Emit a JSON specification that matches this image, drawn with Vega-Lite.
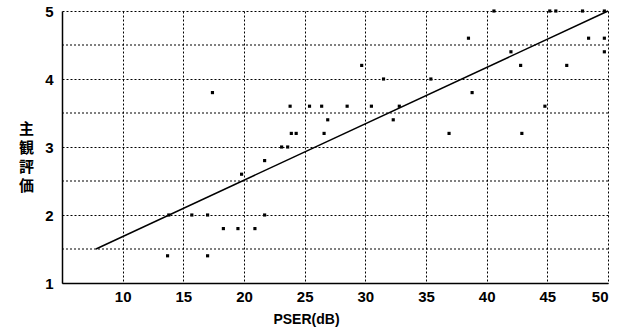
{
  "$schema": "https://vega.github.io/schema/vega-lite/v6.json",
  "width": 546,
  "height": 272,
  "autosize": {"type": "none"},
  "padding": {"left": 62, "top": 11, "right": 18, "bottom": 46},
  "background": "white",
  "config": {
    "view": {"stroke": null},
    "font": "Liberation Sans"
  },
  "datasets": {
    "pts": [
      {"pser": 17.4, "score": 3.8},
      {"pser": 23.8, "score": 3.6},
      {"pser": 25.4, "score": 3.6},
      {"pser": 26.4, "score": 3.6},
      {"pser": 28.5, "score": 3.6},
      {"pser": 30.5, "score": 3.6},
      {"pser": 32.8, "score": 3.6},
      {"pser": 44.8, "score": 3.6},
      {"pser": 23.9, "score": 3.2},
      {"pser": 24.3, "score": 3.2},
      {"pser": 26.6, "score": 3.2},
      {"pser": 36.9, "score": 3.2},
      {"pser": 42.9, "score": 3.2},
      {"pser": 26.9, "score": 3.4},
      {"pser": 32.3, "score": 3.4},
      {"pser": 23.1, "score": 3.0},
      {"pser": 23.6, "score": 3.0},
      {"pser": 21.7, "score": 2.8},
      {"pser": 19.8, "score": 2.6},
      {"pser": 13.8, "score": 2.0},
      {"pser": 15.7, "score": 2.0},
      {"pser": 17.0, "score": 2.0},
      {"pser": 21.7, "score": 2.0},
      {"pser": 18.3, "score": 1.8},
      {"pser": 19.5, "score": 1.8},
      {"pser": 20.9, "score": 1.8},
      {"pser": 13.7, "score": 1.4},
      {"pser": 17.0, "score": 1.4},
      {"pser": 40.6, "score": 5.0},
      {"pser": 45.2, "score": 5.0},
      {"pser": 45.7, "score": 5.0},
      {"pser": 47.9, "score": 5.0},
      {"pser": 49.7, "score": 5.0},
      {"pser": 38.5, "score": 4.6},
      {"pser": 48.4, "score": 4.6},
      {"pser": 49.7, "score": 4.6},
      {"pser": 42.0, "score": 4.4},
      {"pser": 49.7, "score": 4.4},
      {"pser": 29.7, "score": 4.2},
      {"pser": 42.8, "score": 4.2},
      {"pser": 46.6, "score": 4.2},
      {"pser": 31.5, "score": 4.0},
      {"pser": 35.4, "score": 4.0},
      {"pser": 38.8, "score": 3.8}
    ],
    "fit": [
      {"pser": 7.8, "score": 1.5},
      {"pser": 50, "score": 5.0}
    ],
    "halfgrid": [
      {"score": 1.5},
      {"score": 2.5},
      {"score": 3.5},
      {"score": 4.5}
    ]
  },
  "layer": [
    {
      "data": {"name": "halfgrid"},
      "mark": {"type": "rule", "color": "black", "strokeWidth": 1, "strokeDash": [2, 2]},
      "encoding": {
        "y": {"field": "score", "type": "quantitative"}
      }
    },
    {
      "data": {"name": "pts"},
      "mark": {"type": "point", "shape": "square", "filled": true, "size": 10, "color": "black", "opacity": 1},
      "encoding": {
        "x": {
          "field": "pser", "type": "quantitative",
          "scale": {"domain": [5, 50], "nice": false, "zero": false},
          "axis": {
            "values": [10, 15, 20, 25, 30, 35, 40, 45, 50],
            "title": "PSER(dB)",
            "titleFont": "Liberation Sans",
            "titleFontSize": 14,
            "titleFontWeight": "bold",
            "titleColor": "black",
            "titleX": 244,
            "titleY": 29,
            "titleBaseline": "top",
            "titleAnchor": "middle",
            "titleAlign": "center",
            "labelFontSize": 15,
            "labelFontWeight": "bold",
            "labelColor": "black",
            "labelPadding": 6,
            "ticks": false,
            "domain": true,
            "domainColor": "black",
            "domainWidth": 1.5,
            "grid": true,
            "gridColor": "black",
            "gridOpacity": 1,
            "gridDash": [2, 2],
            "gridWidth": 1
          }
        },
        "y": {
          "field": "score", "type": "quantitative",
          "scale": {"domain": [1, 5], "nice": false, "zero": false},
          "axis": {
            "values": [1, 2, 3, 4, 5],
            "format": "d",
            "title": ["主", "観", "評", "価"],
            "titleAngle": 0,
            "titleFont": "Noto Sans CJK JP",
            "titleFontSize": 15,
            "titleFontWeight": "bold",
            "titleLineHeight": 19,
            "titleColor": "black",
            "titleX": -36,
            "titleY": 110,
            "titleAlign": "center",
            "titleBaseline": "top",
            "labelFontSize": 15,
            "labelFontWeight": "bold",
            "labelColor": "black",
            "labelPadding": 9,
            "ticks": false,
            "domain": true,
            "domainColor": "black",
            "domainWidth": 1.5,
            "grid": true,
            "gridColor": "black",
            "gridOpacity": 1,
            "gridDash": [2, 2],
            "gridWidth": 1
          }
        }
      }
    },
    {
      "data": {"name": "fit"},
      "mark": {"type": "line", "color": "black", "strokeWidth": 1.5},
      "encoding": {
        "x": {"field": "pser", "type": "quantitative"},
        "y": {"field": "score", "type": "quantitative"}
      }
    }
  ]
}
